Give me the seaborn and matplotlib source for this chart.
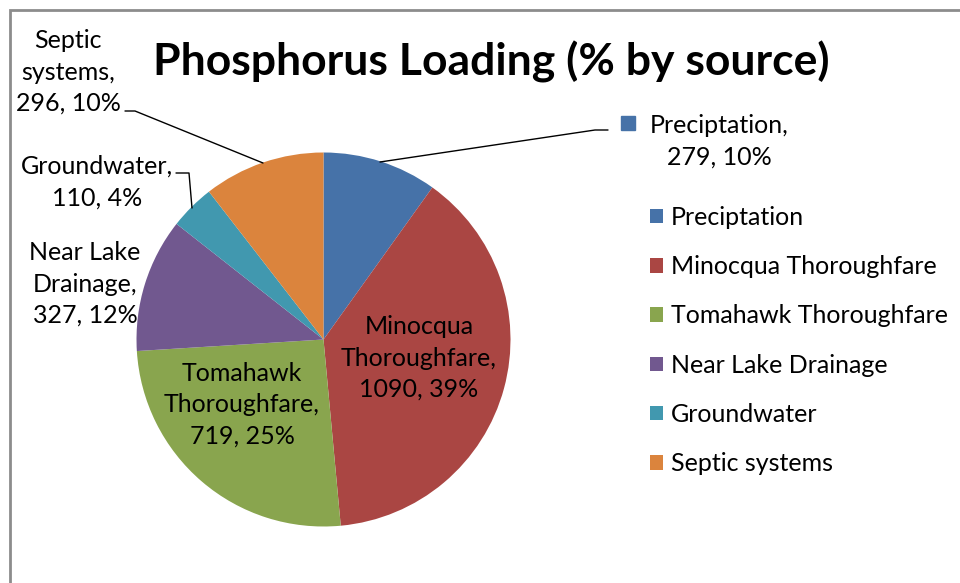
import matplotlib
matplotlib.use("Agg")
import matplotlib.pyplot as plt
import matplotlib.patches as mpatches
import seaborn as sns

# ---- data ----
sources = ["Preciptation", "Minocqua Thoroughfare", "Tomahawk Thoroughfare",
           "Near Lake Drainage", "Groundwater", "Septic systems"]
loads = [279, 1090, 719, 327, 110, 296]
label_lines = ["Preciptation,", "Minocqua\nThoroughfare,", "Tomahawk\nThoroughfare,",
               "Near Lake\nDrainage,", "Groundwater,", "Septic\nsystems,"]
colors = ["#4672A8", "#AA4643", "#89A54E", "#71588F", "#4198AF", "#DB843D"]
title = "Phosphorus Loading (% by source)"

sns.set_theme(style="white")
plt.rcParams["font.family"] = ["Lato", "DejaVu Sans"]
plt.rcParams["text.color"] = "black"

W, H = 960, 583
fig = plt.figure(figsize=(W / 100, H / 100), dpi=100)
ax = fig.add_axes([0, 0, 1, 1])

def Y(y):
    return H - y

wedges, _ = ax.pie(loads, colors=colors, startangle=90, counterclock=False,
                   center=(323.5, Y(339.5)), radius=187,
                   wedgeprops=dict(linewidth=0))
ax.set_xlim(0, W)
ax.set_ylim(0, H)
ax.set_aspect("equal")
ax.axis("off")

# chart border (cut off at right/bottom)
ax.add_patch(mpatches.Rectangle((10, -20), W + 20, Y(10) + 20, fill=False,
                                edgecolor="#8C8C8C", linewidth=2, clip_on=False))

total = sum(loads)
pcts = [round(v / total * 100) for v in loads]
pcts[2] = int(loads[2] / total * 100)  # Excel shows 25%
texts = [f"{l}\n{v}, {p}%" for l, v, p in zip(label_lines, loads, pcts)]

fs = 18
# label positions (centres)
pos = {0: (719, 141), 1: (419, 358), 2: (242, 405), 3: (85, 284), 4: (97, 182), 5: (68, 72)}
for i, (x, y) in pos.items():
    ax.text(x, Y(y), texts[i], ha="center", va="center", fontsize=fs,
            color="black", linespacing=1.43)

# leader lines
leaders = {
    0: [(380, 162), (595, 130), (608, 130)],
    5: [(125, 111), (135, 111), (263, 163)],
    4: [(176, 173), (189, 173), (192, 208)],
}
for i, pts in leaders.items():
    ax.plot([p[0] for p in pts], [Y(p[1]) for p in pts], color="black", lw=1)

# legend key in the precipitation data label
ax.plot([627.5], [Y(122.5)], marker="s", markersize=9.5, color=colors[0], linestyle="none")

ax.text(491, Y(62), title, ha="center", va="center", fontsize=32, fontweight="bold",
        color="black")

leg = ax.legend(wedges, sources, loc="upper left", bbox_to_anchor=(650 / W, 1 - 206 / H),
                bbox_transform=fig.transFigure, frameon=False, fontsize=fs,
                handlelength=0.52, handleheight=0.52, handletextpad=0.32,
                labelspacing=1.05, borderaxespad=0, borderpad=0)
for t in leg.get_texts():
    t.set_color("black")

fig.savefig("out.png", dpi=100)
